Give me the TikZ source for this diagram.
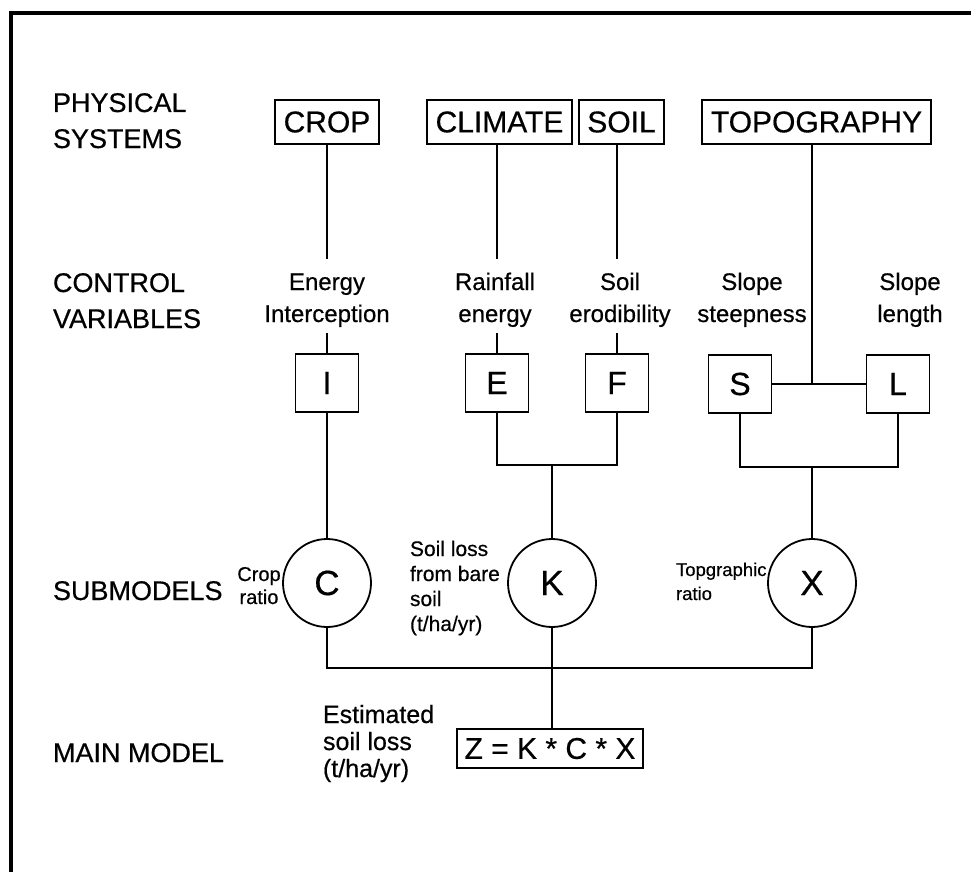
\documentclass[tikz,border=0pt]{standalone}
\usepackage{fontspec}
\setmainfont[FakeBold=0.5]{Liberation Sans}
\begin{document}
\begin{tikzpicture}[x=1pt,y=-1pt,line width=2pt,
  lab/.style={font=\fontsize{27}{36}\selectfont,align=left,anchor=base west,inner sep=0pt},
  var/.style={font=\fontsize{24}{32}\selectfont,align=center,anchor=base,inner sep=0pt},
  note/.style={font=\fontsize{21}{25}\selectfont,align=left,anchor=base west,inner sep=0pt},
  sysbox/.style={draw,line width=1.8pt,font=\fontsize{30}{30}\selectfont,inner sep=0pt,minimum height=44pt},
  varbox/.style={draw,line width=1.8pt,font=\fontsize{32}{32}\selectfont,inner sep=0pt,minimum width=63pt,minimum height=58pt},
  subm/.style={draw,circle,line width=1.8pt,font=\fontsize{35}{35}\selectfont,inner sep=0pt,minimum size=88pt}]
\useasboundingbox (0,0) rectangle (971,872);
\draw[line width=3.5pt] (11,872) -- (11,13) -- (971,13);
% row labels (base = last line)
\node[lab] (lphys) at (52,148) {PHYSICAL\\SYSTEMS};
\node[lab] (lctrl) at (52,328) {CONTROL\\VARIABLES};
\node[lab] (lsub) at (52,600) {SUBMODELS};
\node[lab] (lmain) at (52,762) {MAIN MODEL};
% physical systems
\node[sysbox,minimum width=104pt] (crop) at (327,122) {CROP};
\node[sysbox,minimum width=145pt] (climate) at (499.5,122) {CLIMATE};
\node[sysbox,minimum width=85pt] (soil) at (621.5,122) {SOIL};
\node[sysbox,minimum width=229pt] (topo) at (816.5,122) {TOPOGRAPHY};
% control variable texts
\node[var] (tI) at (327,322) {Energy\\Interception};
\node[var] (tE) at (495,322) {Rainfall\\energy};
\node[var] (tF) at (620,322) {Soil\\erodibility};
\node[var] (tS) at (752,322) {Slope\\steepness};
\node[var] (tL) at (910,322) {Slope\\length};
% variable boxes
\node[varbox] (I) at (327,383) {I};
\node[varbox] (E) at (497,383) {E};
\node[varbox] (F) at (617,383) {F};
\node[varbox] (S) at (740,384) {S};
\node[varbox] (L) at (898,384) {L};
% submodels
\node[subm] (C) at (327,583) {C};
\node[subm] (K) at (552,583) {K};
\node[subm] (X) at (812,583) {X};
\node[note,font=\fontsize{20}{23}\selectfont,align=center,anchor=base] (tC) at (259,604) {Crop\\ratio};
\node[note] (tK) at (409,631) {Soil loss\\from bare\\soil\\(t/ha/yr)};
\node[note,font=\fontsize{18.5}{24}\selectfont] (tX) at (675,600) {Topgraphic\\ratio};
% main model
\node[sysbox,minimum width=186pt,minimum height=39pt] (Z) at (550,748.5) {Z = K * C * X};
\node[note,font=\fontsize{25}{27}\selectfont] (tZ) at (322,777) {Estimated\\soil loss\\(t/ha/yr)};
% connectors
\draw (crop) -- ([yshift=13pt]tI.north);
\draw ([yshift=-5pt]tI.south) -- (I);
\draw (climate.south -| E) -- ([yshift=13pt]tE.north -| E);
\draw ([yshift=-5pt]tE.south -| E) -- (E);
\draw (soil.south -| F) -- ([yshift=13pt]tF.north -| F);
\draw ([yshift=-5pt]tF.south -| F) -- (F);
\coordinate (slj) at (812,467);
\draw (topo.south -| slj) -- (S -| slj);
\draw (S) -- (L);
\draw (S.south) |- (slj) -| (L.south);
\draw (slj) -- (X);
\coordinate (efj) at (552,465);
\draw (E.south) |- (efj) -| (F.south);
\draw (efj) -- (K);
\draw (I) -- (C);
\coordinate (bj) at (552,668);
\draw (C.south) |- (bj) -| (X.south);
\draw (K) -- (K |- Z.north);
\end{tikzpicture}
\end{document}
